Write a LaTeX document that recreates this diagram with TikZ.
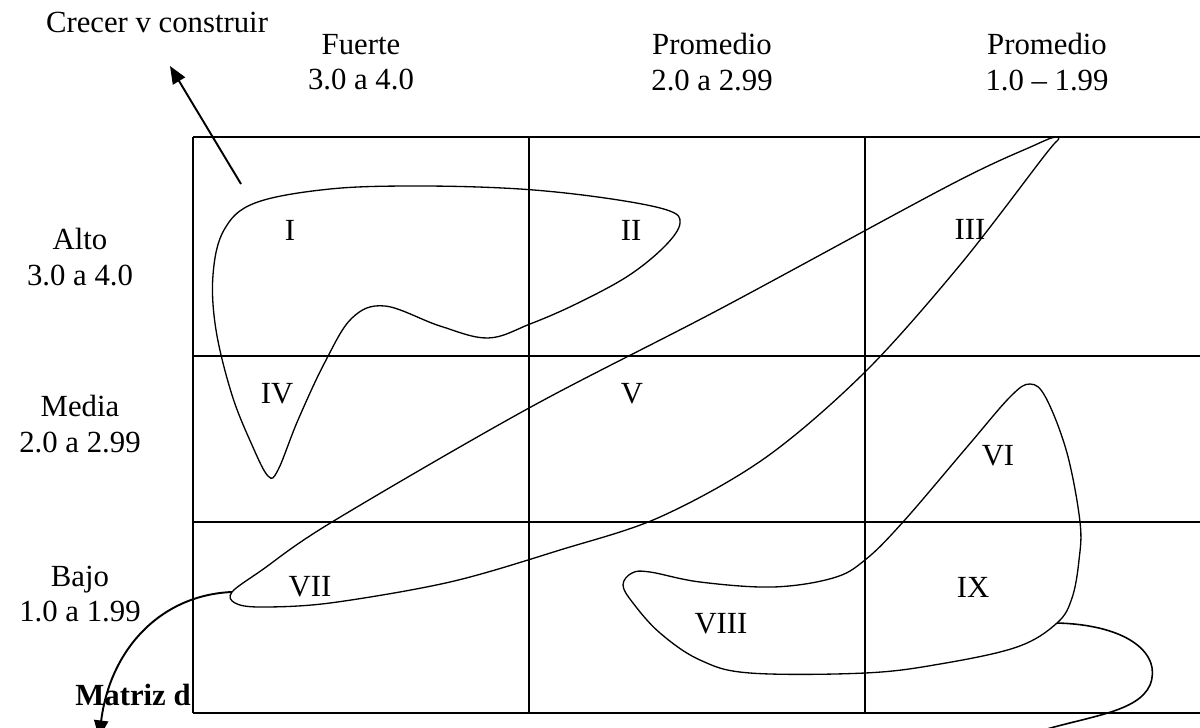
\documentclass[tikz,border=0pt]{standalone}
\usepackage{fontspec}
\setmainfont{Liberation Serif}
\usetikzlibrary{arrows.meta}
\tikzset{
  gridline/.style={line width=0.85pt},
  zone/.style={line width=0.75pt},
  pointer/.style={line width=1.1pt, -{Triangle[length=10pt,width=8pt]}},
  lbl/.style={font=\fontsize{17.5}{20}\selectfont, align=center, inner sep=0pt},
  cell/.style={font=\fontsize{17.5}{20}\selectfont, inner sep=0pt}
}

\begin{document}
\begin{tikzpicture}[x=0.02cm, y=-0.02cm]
  \useasboundingbox (0,0) rectangle (1200,727);

  % grid of the matrix
  \foreach \gx in {193,529,865} \draw[gridline] (\gx,137) -- (\gx,713);
  \foreach \gy in {137,356,522,713} \draw[gridline] (193,\gy) -- (1200,\gy);

  % headers
  \node[lbl] (crecer) at (157,22) {Crecer v construir};
  \foreach \cx/\name/\range [count=\i] in {361/Fuerte/3.0 a 4.0, 712/Promedio/2.0 a 2.99, 1047/Promedio/1.0 -- 1.99}
    \node[lbl] (col\i) at (\cx,62) {\name\\\range};
  \foreach \ry/\name/\range [count=\i] in {257/Alto/3.0 a 4.0, 424/Media/2.0 a 2.99, 594/Bajo/1.0 a 1.99}
    \node[lbl] (row\i) at (80,\ry) {\name\\\range};
  \node[lbl, font=\fontsize{17.5}{20}\selectfont\bfseries, anchor=east] (matriz) at (191,695) {Matriz d};

  % cells
  \foreach \lx/\ly/\txt in {290/230/I, 631/230/II, 970/229/III, 277/394/IV, 632/394/V, 998/456/VI, 310/587/VII, 721/624/VIII, 973/587/IX}
    \node[cell] (c\txt) at (\lx,\ly) {\txt};

  % zones
  \draw[zone] plot[smooth cycle, tension=0.6] coordinates {
    (268,476) (252,445) (232,395) (216,330) (213,275) (224,230) (255,203) (330,189) (420,186)
    (520,189) (605,198) (667,210) (680,223) (665,246) (628,276) (576,304) (530,324) (488,338)
    (440,326) (385,306) (352,318) (325,362) (298,420) (278,470)};
  \draw[zone] plot[smooth cycle, tension=0.55] coordinates {
    (1055,137) (1035,145) (950,185) (720,309) (529,408) (332,522) (262,570) (232,592)
    (235,603) (260,607) (330,603) (450,582) (560,550) (660,517) (765,458)
    (865,372) (960,265) (1045,155) (1058,140)};
  \draw[zone] plot[smooth cycle, tension=0.6] coordinates {
    (1030,384) (1046,398) (1067,453) (1080,522) (1079,560) (1072,598) (1057,623) (1017,647)
    (940,664) (865,673) (750,673) (700,660) (660,633) (633,603) (623,585) (632,573) (650,572)
    (700,582) (773,587) (833,578) (865,560) (903,522) (967,447) (1010,397)};

  % connectors
  \coordinate (growtail) at (241,184);
  \coordinate (growtip) at (170,66);
  \draw[pointer] (growtail) -- (growtip);
  \coordinate (viiend) at (232,592);
  \coordinate (downtip) at (99,738);
  \draw[pointer] (viiend) .. controls (160,595) and (110,650) .. (downtip);
  \coordinate (ixend) at (1057,623);
  \coordinate (ixmid) at (1150,685);
  \coordinate (ixout) at (1040,731);
  \draw[line width=0.9pt] (ixend) .. controls (1130,625) and (1162,655) .. (ixmid)
    .. controls (1138,712) and (1090,716) .. (ixout);
\end{tikzpicture}
\end{document}
